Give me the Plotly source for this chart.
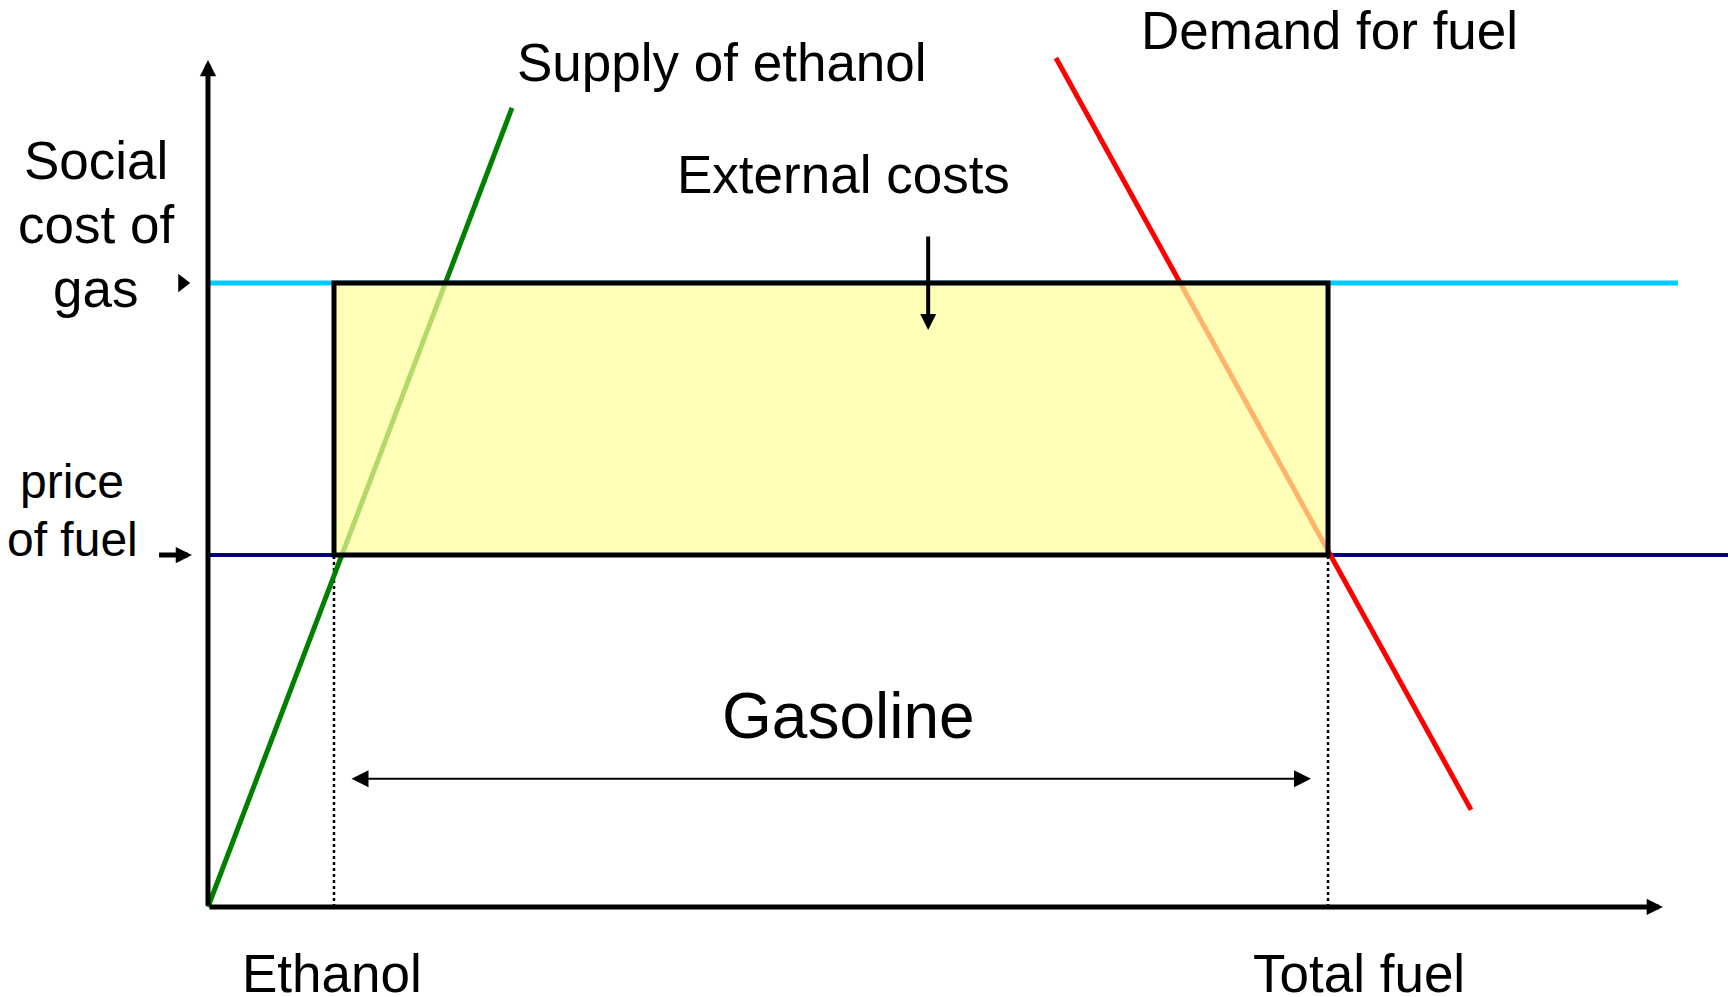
import plotly.graph_objects as go

# ---- data (quantity / price units) ----
ethanol_q = 1.125
total_fuel_q = 10.0
price_of_fuel = 1.0
social_cost_of_gas = 1.773
supply_q = [0.0, 2.714]
supply_p = [0.0, 2.270]
demand_q = [7.571, 11.277]
demand_p = [2.412, 0.276]
axis_q_end = 12.99
axis_p_end = 2.406
social_line_end = 13.125
price_line_end = 14.5
ext_cost_q = 6.43
ext_cost_p = [1.909, 1.639]
gasoline_p = 0.364
gasoline_q = [1.268, 9.848]

FONT = "Liberation Sans, Arial, sans-serif"
LW = 5

fig = go.Figure()

# horizontal price lines
fig.add_trace(go.Scatter(x=[0, social_line_end], y=[social_cost_of_gas]*2, mode="lines",
                         line=dict(color="#00CCFF", width=LW), hoverinfo="skip"))
fig.add_trace(go.Scatter(x=[0, price_line_end], y=[price_of_fuel]*2, mode="lines",
                         line=dict(color="#000080", width=LW - 1), hoverinfo="skip"))
# dotted verticals
for q in [ethanol_q, total_fuel_q]:
    fig.add_trace(go.Scatter(x=[q, q], y=[0, price_of_fuel], mode="lines",
                             line=dict(color="black", width=2.5, dash="dot"), hoverinfo="skip"))
# supply & demand
fig.add_trace(go.Scatter(x=supply_q, y=supply_p, mode="lines",
                         line=dict(color="#008000", width=LW), hoverinfo="skip"))
fig.add_trace(go.Scatter(x=demand_q, y=demand_p, mode="lines",
                         line=dict(color="#FF0000", width=LW), hoverinfo="skip"))
# small pointer triangle for social cost
fig.add_trace(go.Scatter(x=[-0.23], y=[social_cost_of_gas], mode="markers",
                         marker=dict(symbol="triangle-right", size=16, color="black"), hoverinfo="skip"))

# rectangle (fill semi-transparent above lines, then outline)
fig.add_shape(type="rect", x0=ethanol_q, x1=total_fuel_q, y0=price_of_fuel, y1=social_cost_of_gas,
              fillcolor="#FFFF99", opacity=0.7, line=dict(width=0), layer="above")
fig.add_shape(type="rect", x0=ethanol_q, x1=total_fuel_q, y0=price_of_fuel, y1=social_cost_of_gas,
              fillcolor="rgba(0,0,0,0)", line=dict(color="black", width=LW), layer="above")

def arrow(x, y, ax, ay, w, s, side="end"):
    fig.add_annotation(x=x, y=y, ax=ax, ay=ay, xref="x", yref="y", axref="x", ayref="y",
                       text="", showarrow=True, arrowhead=2, arrowsize=s, arrowwidth=w,
                       arrowcolor="black", arrowside=side, standoff=0, startstandoff=0)

# axes
arrow(0, axis_p_end, 0, 0, 5, 0.65)
arrow(axis_q_end, 0, 0, 0, 5, 0.65)
# external cost arrow
arrow(ext_cost_q, ext_cost_p[1], ext_cost_q, ext_cost_p[0], 4, 0.8)
# price of fuel pointer
arrow(-0.143, price_of_fuel, -0.45, price_of_fuel, 5, 0.65)
# gasoline double arrow
arrow(gasoline_q[1], gasoline_p, gasoline_q[0], gasoline_p, 2, 1.7, side="end+start")

def label(t, x, y, size=53):
    fig.add_annotation(x=x, y=y, xref="x", yref="y", text=t, showarrow=False,
                       font=dict(family=FONT, size=size, color="black"),
                       xanchor="center", yanchor="middle")

label("Supply of ethanol", 4.589, 2.398)
label("Demand for fuel", 10.009, 2.489)
label("External costs", 5.67, 2.082)
label("Social", -1.0, 2.122)
label("cost of", -1.0, 1.940)
label("gas", -1.0, 1.756)
label("price", -1.214, 1.210, 48)
label("of fuel", -1.214, 1.043, 48)
label("Gasoline", 5.723, 0.543, 64)
label("Ethanol", 1.107, -0.188)
label("Total fuel", 10.277, -0.188)

fig.update_xaxes(range=[-1.857, 13.571], visible=False, fixedrange=True)
fig.update_yaxes(range=[-0.2557, 2.5767], visible=False, fixedrange=True)
fig.update_layout(width=1728, height=997, margin=dict(l=0, r=0, t=0, b=0),
                  plot_bgcolor="white", paper_bgcolor="white", showlegend=False)

fig.write_html("out.html", config={"displayModeBar": False},
               post_script="document.body.style.margin='0';document.body.style.overflow='hidden';")
